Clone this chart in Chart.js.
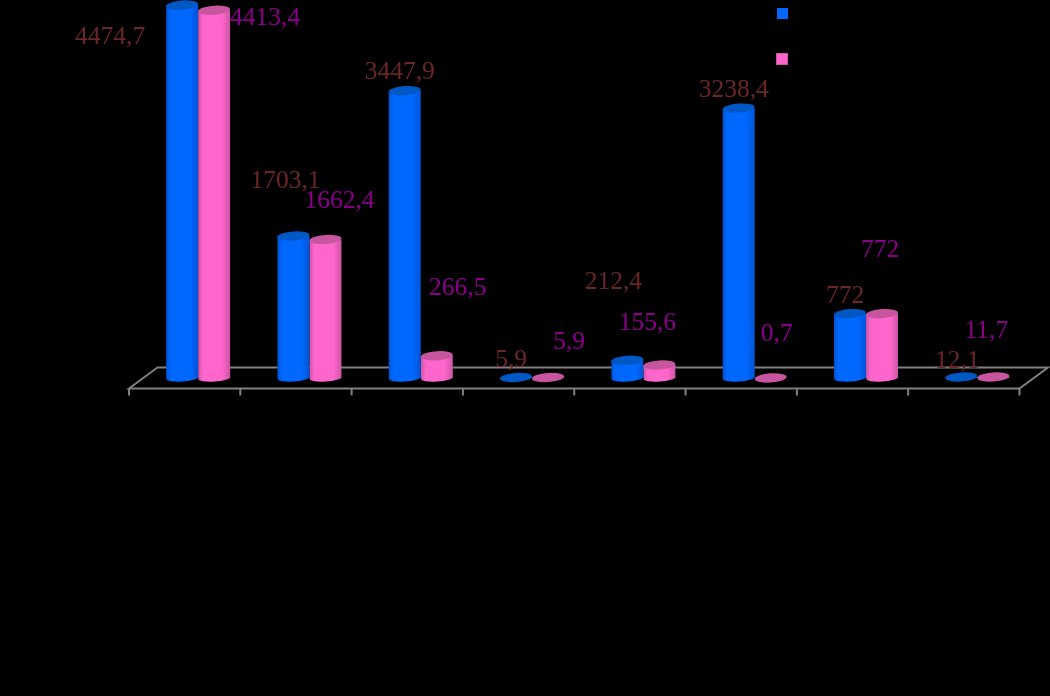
<!DOCTYPE html>
<html>
<head>
<meta charset="utf-8">
<style>html,body{margin:0;padding:0;background:#000}canvas{display:block}</style>
<script src="https://cdn.jsdelivr.net/npm/chart.js@4"></script>
</head>
<body>
<canvas id="c" width="1050" height="696" style="width:1050px;height:696px"></canvas>
<script>
const categories = ['', '', '', '', '', '', '', ''];
const seriesBlue = [4474.7, 1703.1, 3447.9, 5.9, 212.4, 3238.4, 772, 12.1];
const seriesPink = [4413.4, 1662.4, 266.5, 5.9, 155.6, 0.7, 772, 11.7];
const labelsBlue = ['4474,7', '1703,1', '3447,9', '5,9', '212,4', '3238,4', '772', '12,1'];
const labelsPink = ['4413,4', '1662,4', '266,5', '5,9', '155,6', '0,7', '772', '11,7'];
// hand-placed label offsets from each bar's top centre, as in the reference
const offsetsBlue = [[-72,32],[-8,-55],[-5,-18],[-5,-17.5],[-14,-78],[-5,-18],[-5,-17],[-4,-16]];
const offsetsPink = [[51,8],[14,-38],[21,-67],[21,-35.5],[-12,-42],[6,-44],[-2,-63],[-7,-46]];

const styles = [
  {edge:'#0054d4', mid:'#0068ff', cap:'#0058c4', text:'#6b2626', labels:labelsBlue, offsets:offsetsBlue},
  {edge:'#cc54a4', mid:'#ff66cc', cap:'#c8559f', text:'#8b008b', labels:labelsPink, offsets:offsetsPink}
];
const TILT = -0.07, CAP_RY = 4.6, BASE_RY = 3.6, DEPTH_FRONT = 13.5, DEPTH_BACK = 15, DEPTH_Y = 10.5, CATEGORY_SHARE = 0.575;

function bodyGradient(ctx, x0, x1, s) {
  const g = ctx.createLinearGradient(x0, 0, x1, 0);
  g.addColorStop(0, s.edge);
  g.addColorStop(0.15, s.mid);
  g.addColorStop(0.75, s.mid);
  g.addColorStop(1, s.edge);
  return g;
}

function scriptedFill(i) {
  return function (c) {
    const sx = c.chart.scales.x;
    if (!sx || c.dataIndex === undefined) return styles[i].mid;
    const w = (sx.right - sx.left) / categories.length * CATEGORY_SHARE / 2;
    const cx = sx.getPixelForValue(c.dataIndex);
    const x0 = i === 0 ? cx - w : cx;
    if (!Number.isFinite(x0)) return styles[i].mid;
    return bodyGradient(c.chart.ctx, x0, x0 + w, styles[i]);
  };
}

const cylinders = {
  id: 'cylinders',
  beforeDatasetsDraw(chart) {
    const {ctx, chartArea: a, scales: {y}} = chart;
    const base = y.getPixelForValue(0);
    const step = (a.right - a.left) / categories.length;
    const L = a.left, R = a.right;
    ctx.save();
    ctx.strokeStyle = '#808080';
    ctx.lineWidth = 2;
    ctx.beginPath();
    ctx.moveTo(L - DEPTH_FRONT, base + DEPTH_Y);
    ctx.lineTo(L + DEPTH_BACK, base - DEPTH_Y);
    ctx.lineTo(R + DEPTH_BACK, base - DEPTH_Y);
    ctx.lineTo(R - DEPTH_FRONT, base + DEPTH_Y);
    ctx.closePath();
    ctx.stroke();
    ctx.beginPath();
    for (let i = 0; i <= categories.length; i++) {
      const tx = L - DEPTH_FRONT + i * step;
      ctx.moveTo(tx, base + DEPTH_Y);
      ctx.lineTo(tx, base + DEPTH_Y + 7);
    }
    ctx.stroke();
    ctx.restore();
  },
  afterDatasetsDraw(chart) {
    const {ctx, scales: {y}} = chart;
    const base = y.getPixelForValue(0);
    ctx.save();
    styles.forEach((s, d) => {
      chart.getDatasetMeta(d).data.forEach(el => {
        const rx = el.width / 2;
        // a bar this short shows only its top face
        if (base - el.y > 3) {
          ctx.fillStyle = bodyGradient(ctx, el.x - rx, el.x + rx, s);
          ctx.beginPath();
          ctx.ellipse(el.x, base, rx, BASE_RY, TILT, 0, Math.PI * 2);
          ctx.fill();
        }
        ctx.fillStyle = s.cap;
        ctx.beginPath();
        ctx.ellipse(el.x, el.y, rx, CAP_RY, TILT, 0, Math.PI * 2);
        ctx.fill();
      });
    });
    ctx.restore();
  },
  afterDraw(chart) {
    const {ctx} = chart;
    ctx.save();
    ctx.font = '25.5px "Liberation Serif"';
    ctx.textAlign = 'center';
    ctx.textBaseline = 'middle';
    styles.forEach((s, d) => {
      ctx.fillStyle = s.text;
      chart.getDatasetMeta(d).data.forEach((el, i) => {
        ctx.fillText(s.labels[i], el.x + s.offsets[i][0], el.y + s.offsets[i][1]);
      });
    });
    // legend keys (the legend's text is black on black in the reference)
    ctx.fillStyle = styles[0].mid;
    ctx.fillRect(777, 8, 11, 11);
    ctx.fillStyle = styles[1].edge;
    ctx.fillRect(776, 53, 12, 12);
    ctx.fillStyle = styles[1].mid;
    ctx.fillRect(777, 54, 10, 10);
    ctx.restore();
  }
};

new Chart(document.getElementById('c'), {
  type: 'bar',
  data: {
    labels: categories,
    datasets: [
      {data: seriesBlue, backgroundColor: scriptedFill(0), clip: false,
       barPercentage: 1, categoryPercentage: CATEGORY_SHARE},
      {data: seriesPink, backgroundColor: scriptedFill(1), clip: false,
       barPercentage: 1, categoryPercentage: CATEGORY_SHARE}
    ]
  },
  options: {
    responsive: false,
    devicePixelRatio: 1,
    animation: false,
    layout: {padding: {left: 142.5, right: 17, top: 3, bottom: 318}},
    plugins: {legend: {display: false}, tooltip: {enabled: false}},
    scales: {
      x: {display: false},
      y: {display: false, min: 0, max: 4500}
    }
  },
  plugins: [cylinders]
});
</script>
</body>
</html>
